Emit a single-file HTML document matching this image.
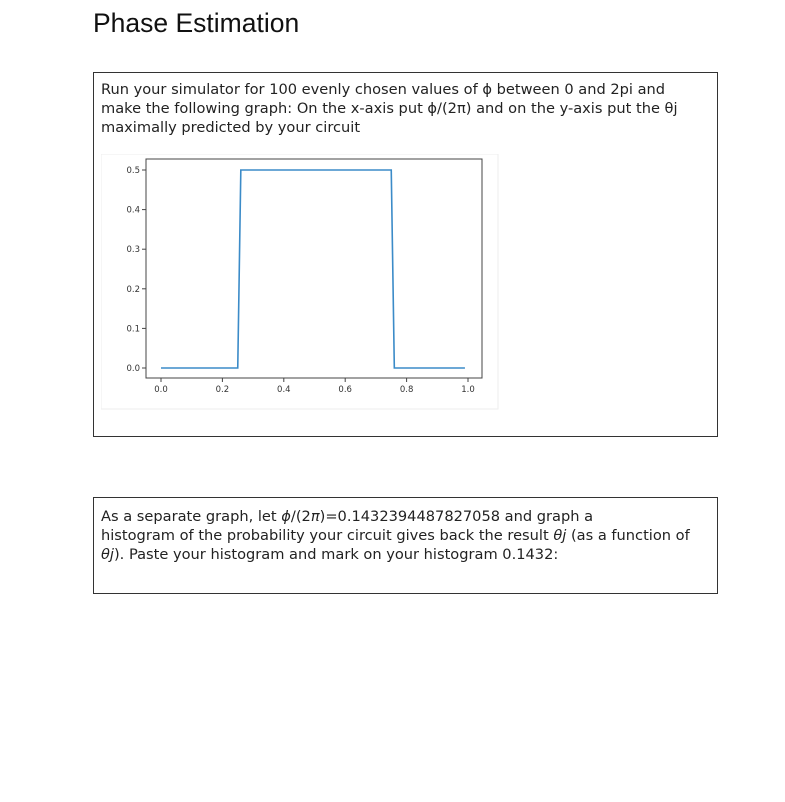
<!DOCTYPE html>
<html><head><meta charset="utf-8"><style>
body{margin:0;width:785px;height:802px;background:#fff;position:relative;font-family:"DejaVu Sans","Liberation Sans",sans-serif;overflow:hidden}
#title{position:absolute;left:93px;top:8px;font:26.5px "Liberation Sans",sans-serif;color:#111}
.box{position:absolute;left:93px;width:623px;border:1px solid #333;box-sizing:content-box}
.txt{position:absolute;left:7px;font-size:14.6px;line-height:19px;color:#222;white-space:nowrap}
</style></head><body>
<div id="title">Phase Estimation</div>
<div class="box" style="top:72px;height:363px">
<div class="txt" style="top:7px">Run your simulator for 100 evenly chosen values of ϕ between 0 and 2pi and<br>make the following graph: On the x-axis put ϕ/(2π) and on the y-axis put the θj<br>maximally predicted by your circuit</div>
<svg id="chart" style="position:absolute;left:7px;top:81px" width="398" height="256"></svg>
</div>
<div class="box" style="top:497px;height:95px">
<div class="txt" style="top:9px;font-size:14.6px">As a separate graph, let <i>ϕ</i>/(2<i>π</i>)=0.1432394487827058 and graph a<br>histogram of the probability your circuit gives back the result <i>θj</i> (as a function of<br><i>θj</i>). Paste your histogram and mark on your histogram 0.1432:</div>
</div>
<script>
const xVals=[0,0.25,0.26,0.75,0.76,0.99];
const yVals=[0,0,0.5,0.5,0,0];
const xTicks=[0,0.2,0.4,0.6,0.8,1.0];
const yTicks=[0,0.1,0.2,0.3,0.4,0.5];
const NS="http://www.w3.org/2000/svg";
const svg=document.getElementById('chart');
const ox=101,oy=154;
const X=v=>161-ox+v*(468-161);
const Y=v=>368-oy-v*(368-170)/0.5;
function mk(t,a){const e=document.createElementNS(NS,t);for(const k in a)e.setAttribute(k,a[k]);svg.appendChild(e);return e;}
const bg=mk('rect',{x:0,y:0,width:397,height:255,fill:'#fff',stroke:'#eee'});


const frame=mk('rect',{x:146-ox,y:159-oy,width:336,height:219,fill:'none',stroke:'#444','stroke-width':1});


xTicks.forEach(v=>{
 const l=mk('line',{x1:X(v),x2:X(v),y1:378-oy,y2:382-oy,stroke:'#444'});
 
 
 const t=mk('text',{x:X(v),y:392-oy,'font-size':8.5,'text-anchor':'middle',fill:'#333','font-family':'DejaVu Sans,sans-serif'});
 t.textContent=v.toFixed(1);
 
 
});
yTicks.forEach(v=>{
 const l=mk('line',{x1:142-ox,x2:146-ox,y1:Y(v),y2:Y(v),stroke:'#444'});
 
 
 const t=mk('text',{x:140-ox,y:Y(v)+3,'font-size':8.5,'text-anchor':'end',fill:'#333','font-family':'DejaVu Sans,sans-serif'});
 t.textContent=v.toFixed(1);
 
 
});
const line=mk('polyline',{points:xVals.map((x,i)=>X(x)+','+Y(yVals[i])).join(' '),fill:'none',stroke:'#3b8bc8','stroke-width':1.6});


</script>
</body></html>
